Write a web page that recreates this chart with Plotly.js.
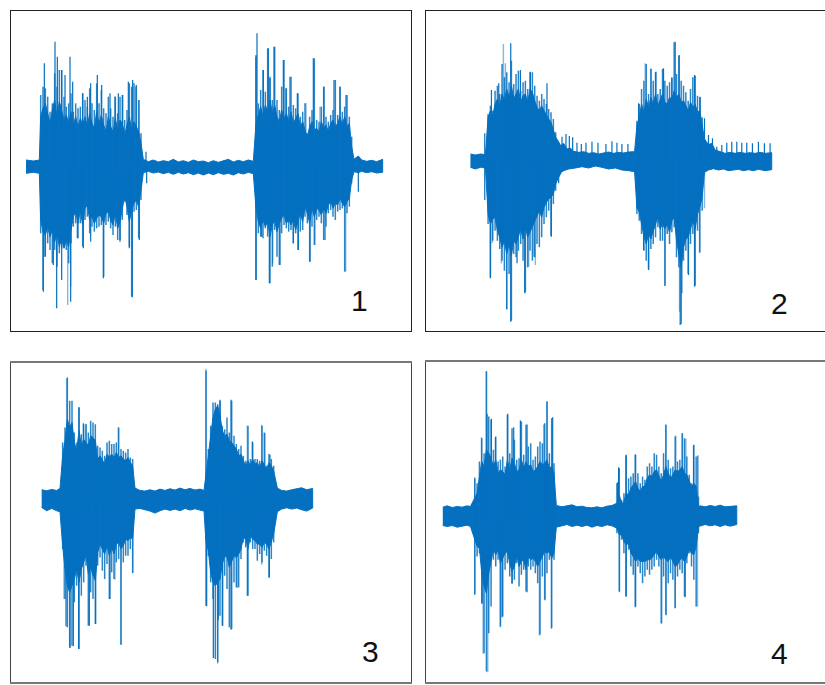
<!DOCTYPE html>
<html><head><meta charset="utf-8">
<script src="https://cdn.plot.ly/plotly-3.0.1.min.js"></script>
<style>html,body{margin:0;padding:0;background:#fff}#c{width:825px;height:685px}</style>
</head><body><div id="c"></div>
<script>
// Panel 1: sample position, quiet band, solid core in bursts, fine peaks, isolated peaks
const p1BandTopX=[78,100,118,430,445,460,475,490,505,520,535,550,565,580,595,610,625,640,655,670,685,700,715,730,745,760,1062,1075,1085,1100,1115,1130,1148];
const p1BandTop=[20,17,20,22,15,20,14,18,15,22,14,18,13,20,15,17,12,18,13,17,22,14,19,15,20,16,22,32,20,16,19,15,22];
const p1BandBotX=[78,100,118,430,445,460,475,490,505,520,535,550,565,580,595,610,625,640,655,670,685,700,715,730,745,760,1062,1075,1085,1100,1115,1130,1148];
const p1BandBot=[-20,-17,-20,-18,-14,-19,-16,-21,-17,-23,-17,-22,-18,-24,-19,-25,-19,-24,-18,-23,-20,-25,-18,-22,-17,-21,-15,-18,-14,-18,-15,-19,-17];
const p1FineX=[122,129,136,143,150,157,164,171,178,185,192,199,206,213,220,227,234,241,248,255,262,269,276,283,290,297,304,311,318,325,332,339,346,353,360,367,374,381,388,395,402,409,416,423,768,775,782,789,796,803,810,817,824,831,838,845,852,859,866,873,880,887,894,901,908,915,922,929,936,943,950,957,964,971,978,985,992,999,1006,1013,1020,1027,1034,1041,1048,1055];
const p1CoreTop=[150,175,190,160,130,170,200,150,195,170,140,155,130,165,125,150,120,145,125,150,120,160,130,115,165,130,155,125,105,150,120,105,145,110,140,130,95,125,150,110,135,120,105,70,130,155,180,150,185,165,200,160,185,150,135,170,145,160,135,165,130,145,160,120,135,110,90,120,135,110,115,105,135,115,125,105,130,140,120,130,150,125,150,120,130,60];
const p1CoreBot=[-160,-195,-205,-180,-210,-190,-225,-200,-240,-215,-245,-220,-240,-190,-150,-135,-170,-130,-175,-125,-115,-160,-150,-170,-155,-145,-150,-170,-140,-135,-160,-175,-140,-185,-165,-125,-90,-120,-165,-130,-110,-100,-120,-70,-125,-165,-185,-160,-180,-165,-210,-175,-160,-195,-170,-155,-145,-170,-160,-175,-160,-190,-165,-140,-165,-120,-140,-170,-125,-150,-125,-130,-145,-125,-140,-115,-105,-125,-110,-115,-95,-110,-120,-105,-95,-40];
const p1FineUp=[215,240,235,210,165,190,280,240,290,290,210,180,190,220,165,190,175,180,220,200,180,235,190,170,250,190,230,175,160,210,175,150,210,160,210,215,140,170,250,240,250,245,200,100,330,190,230,290,225,355,270,200,360,200,170,240,320,235,180,270,185,175,220,150,165,190,100,150,170,325,140,135,180,240,150,135,155,170,260,155,240,165,180,215,150,90];
const p1FineDown=[-200,-370,-270,-230,-250,-290,-250,-300,-260,-245,-240,-250,-290,-230,-180,-170,-215,-170,-240,-160,-150,-200,-180,-195,-185,-180,-175,-330,-175,-165,-185,-205,-180,-220,-220,-160,-105,-145,-240,-390,-135,-130,-215,-100,-340,-200,-210,-215,-185,-210,-350,-300,-190,-270,-295,-200,-175,-185,-195,-190,-230,-200,-250,-195,-190,-150,-170,-285,-180,-235,-160,-150,-170,-220,-180,-140,-130,-150,-160,-135,-130,-125,-315,-140,-120,-50];
const p1PeakX=[133,165,172,210,185,195,218,272,292,305,330,345,355,368,385,398,408,248,262,771,768,805,822,790,810,850,870,940,892,972,1002,1020,1038,858,438,130,170,185,212,135,160,232,250,272,310,360,388,397,418,440,768,808,785,840,880,895,930,975,1075];
const p1PeakAmp=[310,375,330,330,290,275,255,250,275,245,220,210,220,215,255,260,240,220,210,400,335,355,360,290,265,320,270,325,220,240,260,240,215,235,45,-375,-425,-340,-405,-270,-295,-215,-245,-225,-335,-225,-245,-392,-220,-50,-340,-350,-210,-295,-230,-250,-285,-220,-75];
const p1LightX=[418,175,203,212,818,945,1037,918,960];
const p1LightAmp=[200,110,-415,-360,-290,-235,-315,190,180];
// Panel 2
const p2BandTopX=[165,180,195,210,428,436,445,455,465,475,490,505,520,535,550,565,580,595,610,625,640,658,868,880,890,900,915,930,945,960,975,990,1005,1020,1035,1050,1070];
const p2BandTop=[20,17,20,18,60,45,52,35,38,28,25,27,22,24,20,24,26,22,25,23,26,27,65,48,52,32,27,22,25,22,25,22,24,22,25,22,24];
const p2BandBotX=[165,180,195,210,430,438,445,460,480,500,520,540,560,580,600,620,640,658,868,880,895,910,925,940,955,970,985,1000,1015,1030,1050,1070];
const p2BandBot=[-20,-25,-20,-22,-50,-35,-30,-25,-22,-18,-22,-16,-20,-25,-22,-28,-30,-33,-35,-28,-24,-28,-25,-30,-28,-26,-30,-27,-30,-26,-30,-27];
const p2FineX=[218,225,232,239,246,253,260,267,274,281,288,295,302,309,316,323,330,337,344,351,358,365,372,379,386,393,400,407,414,421,665,672,679,686,693,700,707,714,721,728,735,742,749,756,763,770,777,784,791,798,805,812,819,826,833,840,847,854,861];
const p2CoreTop=[130,150,135,170,185,165,200,180,215,190,225,185,200,215,175,195,200,175,215,205,180,160,150,165,150,135,125,115,95,70,105,130,170,145,185,160,190,170,200,165,180,200,175,170,190,185,210,190,200,175,180,165,150,175,160,170,145,150,110];
const p2CoreBot=[-160,-190,-175,-170,-210,-230,-260,-240,-280,-250,-285,-240,-250,-225,-205,-235,-200,-230,-210,-195,-185,-165,-150,-170,-140,-125,-115,-110,-100,-70,-140,-155,-190,-225,-250,-220,-235,-210,-190,-170,-205,-190,-205,-190,-215,-180,-170,-240,-280,-320,-260,-235,-230,-205,-180,-205,-160,-140,-110];
const p2FineUp=[140,165,150,210,225,200,290,250,265,235,300,230,260,270,210,235,240,215,265,265,225,195,180,200,185,170,155,145,125,85,120,170,215,240,290,200,275,240,265,200,215,275,240,225,235,250,355,260,315,240,225,205,180,215,250,255,195,190,130];
const p2FineDown=[-190,-350,-240,-210,-240,-265,-300,-330,-445,-340,-480,-280,-290,-270,-250,-300,-395,-320,-270,-300,-290,-250,-260,-230,-190,-170,-150,-225,-130,-90,-160,-180,-220,-270,-300,-325,-265,-250,-230,-200,-240,-240,-375,-220,-250,-215,-200,-290,-320,-490,-300,-270,-340,-250,-220,-375,-210,-275,-150];
const p2PeakX=[286,250,228,395,780,792,722,745,770,838,855,868,315,345,670,208,440,452,462,472,485,498,512,530,548,572,590,605,620,638,880,892,905,920,935,950,965,980,995,1012,1030,1048,1065,286,795,328,225,408,430,208,800,838,820,700,685,305];
const p2PeakAmp=[352,232,212,232,357,317,267,277,247,257,192,127,272,267,172,82,72,80,74,70,54,50,54,57,54,50,58,54,50,50,77,67,42,47,54,57,57,54,54,52,57,52,52,-483,-493,-398,-353,-228,-68,-118,-398,-378,-343,-328,-268,-308];
const p2LightX=[264,270,690,708,274,750,793,258,340,360,230,355,868,853];
const p2LightAmp=[350,292,292,277,-448,-376,-453,-308,-318,-313,-248,-288,-143,-278];
// Panel 3
const p3BandTopX=[125,140,155,170,180,405,420,435,450,465,480,495,510,525,540,555,570,585,600,612,832,845,860,875,890,905,920,938];
const p3BandTop=[28,25,29,26,32,33,26,24,28,24,30,26,31,27,33,28,32,27,30,26,33,26,24,28,30,34,28,32];
const p3BandBotX=[125,140,155,170,180,405,420,435,450,465,480,495,510,525,540,555,570,585,600,612,832,845,860,875,890,905,920,938];
const p3BandBot=[-25,-35,-28,-35,-38,-30,-28,-32,-36,-42,-35,-30,-34,-30,-35,-28,-33,-29,-33,-36,-38,-30,-26,-30,-27,-32,-36,-27];
const p3FineX=[188,195,202,209,216,223,230,237,244,251,258,265,272,279,286,293,300,307,314,321,328,335,342,349,356,363,370,377,384,391,398,618,625,632,639,646,653,660,667,674,681,688,695,702,709,716,723,730,737,744,751,758,765,772,779,786,793,800,807,814,821];
const p3CoreTop=[130,175,240,215,230,170,145,205,160,180,170,160,190,185,175,120,130,115,105,135,125,135,125,140,125,130,120,115,125,110,100,70,130,190,245,270,280,250,205,190,195,175,170,160,150,130,135,115,100,115,100,120,105,110,95,115,100,90,110,100,85];
const p3CoreBot=[-140,-210,-260,-280,-260,-240,-210,-250,-210,-190,-170,-225,-205,-230,-245,-160,-135,-150,-165,-140,-170,-145,-165,-135,-130,-150,-140,-120,-125,-115,-120,-130,-155,-220,-250,-260,-250,-240,-195,-170,-175,-205,-190,-170,-175,-165,-150,-115,-120,-150,-110,-120,-125,-135,-135,-145,-130,-135,-150,-130,-105];
const p3FineUp=[170,215,365,295,295,200,170,275,195,225,225,200,235,230,225,160,155,145,130,170,175,165,165,170,215,150,145,140,150,125,120,385,150,220,290,290,285,295,220,210,245,200,295,190,165,150,160,130,115,220,120,170,120,120,115,220,200,100,135,120,100];
const p3FineDown=[-150,-300,-385,-445,-440,-310,-260,-450,-290,-250,-200,-380,-280,-300,-375,-200,-175,-215,-240,-195,-300,-220,-240,-190,-180,-437,-190,-170,-170,-150,-222,-320,-170,-250,-300,-480,-490,-350,-380,-230,-270,-385,-390,-250,-265,-265,-180,-130,-145,-290,-130,-150,-150,-185,-165,-190,-155,-170,-235,-180,-130];
const p3PeakX=[237,693,250,660,757,810,210,220,236,268,287,330,620,640,668,693,742,808,655,198];
const p3PeakAmp=[276,298,228,298,173,133,-447,-442,-450,-380,-374,-300,-322,-477,-380,-392,-290,-235,-362,-382];
const p3LightX=[200,618,355,785,258,742,795,192,363,653,398,345,712,785];
const p3LightAmp=[363,391,216,223,226,220,198,-300,-437,-494,-222,-242,-267,-197];
// Panel 4
const p4BandTopX=[82,95,110,125,140,155,165,423,440,455,470,485,500,515,530,545,560,575,590,855,870,885,900,915,930,945,965];
const p4BandTop=[28,32,27,30,28,32,30,33,29,31,35,29,31,27,26,29,26,31,33,32,29,33,30,34,29,31,32];
const p4BandBotX=[82,95,110,125,140,155,165,423,440,455,470,485,500,515,530,545,560,575,590,855,870,885,900,915,930,945,965];
const p4BandBot=[-27,-30,-27,-32,-28,-26,-30,-32,-28,-24,-30,-26,-30,-26,-32,-27,-30,-25,-28,-28,-24,-28,-25,-30,-25,-29,-24];
const p4FineX=[178,185,192,199,206,213,220,227,234,241,248,255,262,269,276,283,290,297,304,311,318,325,332,339,346,353,360,367,374,381,388,395,402,409,416,605,612,619,626,633,640,647,654,661,668,675,682,689,696,703,710,717,724,731,738,745,752,759,766,773,780,787,794,801,808,815,822,829,836,843,850];
const p4CoreTop=[55,70,120,165,150,200,190,175,150,170,130,140,135,125,170,140,175,160,135,140,170,145,165,150,155,135,140,150,165,155,160,170,145,150,130,40,65,38,45,70,65,85,95,105,85,75,90,90,115,125,120,135,140,120,105,125,150,130,115,125,140,135,140,150,130,125,105,90,100,90,30];
const p4CoreBot=[-70,-90,-95,-170,-210,-230,-170,-140,-100,-115,-100,-140,-125,-110,-105,-140,-165,-150,-115,-150,-135,-130,-160,-120,-130,-125,-135,-150,-130,-120,-105,-110,-105,-125,-110,-35,-55,-55,-75,-85,-80,-110,-120,-135,-125,-135,-135,-135,-130,-130,-125,-115,-105,-120,-130,-120,-130,-135,-120,-135,-150,-145,-130,-125,-135,-120,-100,-110,-115,-90,-30];
const p4FineUp=[115,100,165,235,190,436,300,290,200,240,165,170,180,150,305,190,265,230,170,175,285,185,275,210,220,170,180,210,225,220,280,345,190,295,160,100,145,50,70,185,115,120,130,185,130,100,120,110,150,160,150,190,185,150,130,190,275,170,145,150,240,165,170,250,235,180,125,100,215,180,60];
const p4FineDown=[-235,-120,-110,-260,-410,-465,-350,-270,-130,-150,-130,-330,-300,-160,-140,-180,-200,-190,-140,-210,-175,-160,-225,-150,-160,-150,-170,-200,-355,-180,-250,-170,-130,-335,-130,-50,-225,-70,-110,-240,-100,-150,-175,-270,-150,-170,-200,-180,-160,-175,-160,-150,-130,-150,-320,-180,-295,-200,-170,-190,-275,-180,-160,-170,-240,-140,-110,-150,-190,-270,-50];
const p4PeakX=[215,228,277,295,315,335,412,632,660,610,835,848,607,240,200,260,335,660,810,632,290];
const p4PeakAmp=[308,293,308,268,288,276,298,183,186,148,213,183,103,238,-262,-302,-227,-272,-242,-240,-202];
const p4LightX=[213,395,752,782,802,812,385,198,178,217,203,255,372,408,178,740,753,780,847,613,390];
const p4LightAmp=[436,346,276,243,250,233,276,238,118,-467,-412,-332,-357,-337,-232,-322,-297,-274,-270,-227,-252];
const panelLabels=['1','2','3','4'];

const panels=[
 {btx:p1BandTopX,bt:p1BandTop,bbx:p1BandBotX,bb:p1BandBot,ct:p1CoreTop,cb:p1CoreBot,fx:p1FineX,fu:p1FineUp,fd:p1FineDown,px:p1PeakX,pa:p1PeakAmp,lx:p1LightX,la:p1LightAmp},
 {btx:p2BandTopX,bt:p2BandTop,bbx:p2BandBotX,bb:p2BandBot,ct:p2CoreTop,cb:p2CoreBot,fx:p2FineX,fu:p2FineUp,fd:p2FineDown,px:p2PeakX,pa:p2PeakAmp,lx:p2LightX,la:p2LightAmp},
 {btx:p3BandTopX,bt:p3BandTop,bbx:p3BandBotX,bb:p3BandBot,ct:p3CoreTop,cb:p3CoreBot,fx:p3FineX,fu:p3FineUp,fd:p3FineDown,px:p3PeakX,pa:p3PeakAmp,lx:p3LightX,la:p3LightAmp},
 {btx:p4BandTopX,bt:p4BandTop,bbx:p4BandBotX,bb:p4BandBot,ct:p4CoreTop,cb:p4CoreBot,fx:p4FineX,fu:p4FineUp,fd:p4FineDown,px:p4PeakX,pa:p4PeakAmp,lx:p4LightX,la:p4LightAmp}
];
const W=825,H=685,blue='#0570bf';
const frames=[
 {l:11,r:411,t:11,b:331,x0:33,x1:1233,y0:-493,y1:467,lab:[1077,-400],xc:'#222',xw:1,yc:'#222',yw:1},
 {l:425.5,r:825.5,t:11,b:331,x0:30,x1:1230,y0:-511,y1:449,lab:[1093,-428],xc:'#222',xw:1,yc:'#222',yw:1},
 {l:11,r:411,t:362.5,b:682,x0:33,x1:1233,y0:-549,y1:410,lab:[1110,-458],xc:'#777',xw:2,yc:'#444',yw:1},
 {l:425.5,r:825.5,t:361.5,b:681.5,x0:30,x1:1230,y0:-495,y1:465,lab:[1093,-412],xc:'#777',xw:2,yc:'#444',yw:1}
];
const spikes=(xs,as,base)=>{const x=[],y=[];xs.forEach((v,i)=>{x.push(v,v,null);y.push(base?base[i]:0,as[i],null);});return {x,y};};
const merged=(xa,ya,xb,yb)=>xa.map((v,i)=>[v,ya[i]]).concat(xb.map((v,i)=>[v,yb[i]])).sort((a,b)=>a[0]-b[0]);
const traces=[];
const layout={width:W,height:H,margin:{l:0,r:0,t:0,b:0},paper_bgcolor:'#fff',plot_bgcolor:'#fff',showlegend:false,annotations:[]};
panels.forEach((p,i)=>{
 const n=i+1,f=frames[i],xa='x'+(i?n:''),ya='y'+(i?n:'');
 const xs=xa.replace('x','xaxis'),ys=ya.replace('y','yaxis');
 layout[xs]={domain:[f.l/W,Math.min(1,f.r/W)],range:[f.x0,f.x1],showticklabels:false,ticks:'',showgrid:false,zeroline:false,showline:true,mirror:true,linecolor:f.xc,linewidth:f.xw,anchor:ya};
 layout[ys]={domain:[1-f.b/H,1-f.t/H],range:[f.y0,f.y1],showticklabels:false,ticks:'',showgrid:false,zeroline:false,showline:true,mirror:true,linecolor:f.yc,linewidth:f.yw,anchor:xa};
 const top=merged(p.btx,p.bt,p.fx,p.ct),bot=merged(p.bbx,p.bb,p.fx,p.cb).reverse();
 const outline=top.concat(bot);
 traces.push({x:outline.map(q=>q[0]),y:outline.map(q=>q[1]),xaxis:xa,yaxis:ya,mode:'lines',fill:'toself',fillcolor:blue,line:{color:blue,width:1},hoverinfo:'skip'});
 const fine=spikes(p.fx,p.fu,p.fd);
 traces.push({x:fine.x,y:fine.y,xaxis:xa,yaxis:ya,mode:'lines',line:{color:'rgba(5,112,191,0.85)',width:1.5},hoverinfo:'skip'});
 const d=spikes(p.px,p.pa);
 traces.push({x:d.x,y:d.y,xaxis:xa,yaxis:ya,mode:'lines',line:{color:blue,width:1.2},hoverinfo:'skip'});
 const l=spikes(p.lx,p.la);
 traces.push({x:l.x,y:l.y,xaxis:xa,yaxis:ya,mode:'lines',line:{color:'rgba(5,112,191,0.5)',width:1.4},hoverinfo:'skip'});
 layout.annotations.push({xref:xa,yref:ya,x:f.lab[0],y:f.lab[1],text:panelLabels[i],showarrow:false,font:{family:'Liberation Sans',size:30,color:'#111'}});
});
Plotly.newPlot('c',traces,layout,{staticPlot:true,displayModeBar:false});
</script></body></html>
